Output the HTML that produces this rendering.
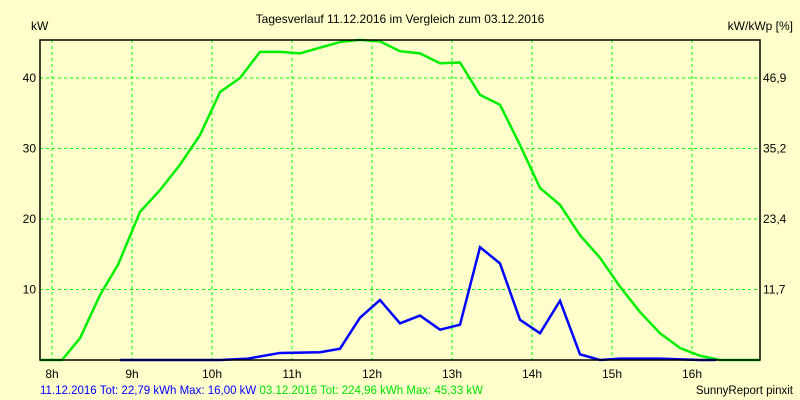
<!DOCTYPE html>
<html><head><meta charset="utf-8"><style>
body{margin:0;background:#ffffcc;}
svg{display:block;font-family:"Liberation Sans",sans-serif;font-size:12px;}
</style></head><body>
<svg id="chart" width="800" height="400" viewBox="0 0 800 400">
<rect width="800" height="400" fill="#ffffcc"/>
<text x="400" y="23" text-anchor="middle">Tagesverlauf 11.12.2016 im Vergleich zum 03.12.2016</text>
<text x="31" y="30">kW</text>
<text x="793" y="30" text-anchor="end">kW/kWp [%]</text>
<g id="grid"></g>
<g id="series"></g>
<rect x="40" y="40" width="720" height="320" fill="none" stroke="#000" stroke-width="1.5"/>
<g id="labels"></g>
<text x="40" y="394" fill="#0000ff" font-size="11.5">11.12.2016 Tot: 22,79 kWh Max: 16,00 kW <tspan fill="#00e000">03.12.2016 Tot: 224,96 kWh Max: 45,33 kW</tspan></text>
<text x="793" y="394" text-anchor="end" font-size="11.5">SunnyReport pinxit</text>
</svg>
<script>
const hourTicks=[8,9,10,11,12,13,14,15,16];
const yTicks=[10,20,30,40];
const y2TickLabels=["11,7","23,4","35,2","46,9"];
const greenHours=[7.85,8.125,8.35,8.6,8.825,9.1,9.35,9.6,9.85,10.1,10.35,10.6,10.85,11.1,11.35,11.6,11.85,12.1,12.35,12.6,12.85,13.1,13.35,13.6,13.85,14.1,14.35,14.6,14.85,15.1,15.35,15.6,15.85,16.1,16.35,16.85];
const greenValues=[0,0,3.1,9.2,13.5,21.0,24.1,27.7,31.9,38.0,40.0,43.7,43.7,43.5,44.3,45.1,45.4,45.2,43.8,43.5,42.1,42.2,37.6,36.2,30.5,24.4,22.0,17.7,14.5,10.4,6.8,3.8,1.7,0.6,0,0];
const blueHours=[8.85,10.1,10.45,10.85,11.35,11.6,11.85,12.1,12.35,12.6,12.85,13.1,13.35,13.6,13.85,14.1,14.35,14.6,14.85,15.1,15.6,16.1,16.3];
const blueValues=[0,0,0.2,1.0,1.1,1.6,6.0,8.5,5.2,6.3,4.3,5.0,16.0,13.7,5.7,3.8,8.4,0.8,0,0.2,0.2,0,0];
const X=h=>52+(h-8)*80;
const Y=v=>360-v*7.05;
const NS="http://www.w3.org/2000/svg";
const grid=document.getElementById('grid'),labels=document.getElementById('labels'),series=document.getElementById('series');
function mk(tag,attrs,parent){const e=document.createElementNS(NS,tag);for(const k in attrs)e.setAttribute(k,attrs[k]);parent.appendChild(e);return e;}
hourTicks.forEach(h=>{
  const l=mk('line',{x1:X(h),x2:X(h),y1:40,y2:360,stroke:'#00ff00','stroke-dasharray':'3,3'},grid);
  
  
  const t=mk('text',{x:X(h),y:378,'text-anchor':'middle'},labels);
  t.textContent=h+'h';
  
  
});
yTicks.forEach((v,i)=>{
  const l=mk('line',{x1:40,x2:760,y1:Y(v),y2:Y(v),stroke:'#00ff00','stroke-dasharray':'3,3'},grid);
  
  
  const t=mk('text',{x:36,y:Y(v)+4,'text-anchor':'end'},labels);
  t.textContent=v;
  
  
  const t2=mk('text',{x:763,y:Y(v)+4},labels);
  t2.textContent=y2TickLabels[i];
  
  
});
const g=mk('polyline',{points:greenHours.map((h,i)=>X(h)+','+Y(greenValues[i])).join(' '),fill:'none',stroke:'#00ee00','stroke-width':2.5},series);


const b=mk('polyline',{points:blueHours.map((h,i)=>X(h)+','+Y(blueValues[i])).join(' '),fill:'none',stroke:'#0000ff','stroke-width':2.5},series);


</script>
</body></html>
